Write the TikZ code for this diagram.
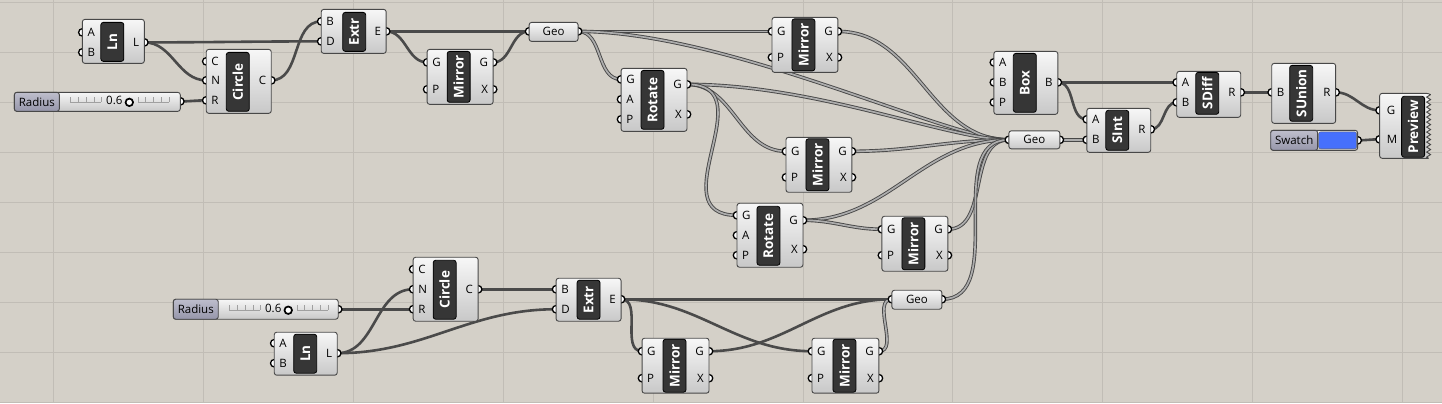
\documentclass[tikz,border=0pt]{standalone}
\usepackage{fontspec}
\setmainfont{Open Sans}
\usetikzlibrary{positioning,decorations.pathmorphing}
\pgfdeclarelayer{canvas}
\pgfdeclarelayer{wires}
\pgfsetlayers{canvas,wires,main}
\definecolor{canvasc}{RGB}{212,208,200}
\definecolor{gridc}{RGB}{193,189,182}
\definecolor{wirec}{RGB}{74,74,74}
\definecolor{bodyt}{RGB}{247,247,247}
\definecolor{bodyb}{RGB}{200,200,200}
\definecolor{edgec}{RGB}{72,72,72}
\definecolor{namec}{RGB}{54,54,54}
\definecolor{tagt}{RGB}{190,190,204}
\definecolor{tagb}{RGB}{150,150,170}
\definecolor{tickc}{RGB}{160,160,160}
\definecolor{swatchc}{RGB}{70,112,252}

\begin{document}
\begin{tikzpicture}[x=1pt,y=-1pt,
   comp/.style={draw=edgec,line width=0.9pt,rounded corners=2.5pt,top color=bodyt,bottom color=bodyb,inner sep=0},
   tag/.style={draw=edgec,line width=0.9pt,rounded corners=2.5pt,top color=tagt,bottom color=tagb,inner sep=0,font=\fontsize{11.5}{13}\selectfont},
   cname/.style={rotate=90,draw=black,line width=0.8pt,fill=namec,rounded corners=2.5pt,text=white,font=\bfseries\fontsize{13.5}{13.5}\selectfont,minimum height=23pt,inner sep=0},
   pin/.style={circle,draw=black,fill=white,line width=1.3pt,minimum size=7.5pt,inner sep=0},
   grip/.style={circle,draw=black,fill=white,line width=1.7pt,minimum size=7.5pt,inner sep=0},
   inlab/.style={anchor=west,xshift=5pt,inner sep=0,font=\fontsize{11.5}{13}\selectfont},
   outlab/.style={anchor=east,xshift=-5pt,inner sep=0,font=\fontsize{11.5}{13}\selectfont},
   ptext/.style={inner sep=0,font=\fontsize{11.5}{13}\selectfont},
   tick/.style={draw=tickc,line width=0.7pt},
   wire/.style={draw=wirec,line width=2.6pt,out=0,in=180},
   dwire/.style={draw=black!72,line width=0.9pt,double=black!32,double distance=1.7pt,out=0,in=180}]

   \begin{pgfonlayer}{canvas}
   \fill[canvasc] (0,0) rectangle (1442,403);
   \foreach \x in {53,203,...,1403} \draw[gridc,line width=0.8pt] (\x,0) -- (\x,403);
   \foreach \y in {2,52,...,402} \draw[gridc,line width=0.8pt] (0,\y) -- (1442,\y);
   \end{pgfonlayer}
   \useasboundingbox (0,0) rectangle (1442,403);

   % upper branch
   \node[pin] (ln1-A) at (82,32) {};
   \node[pin] (ln1-B) at (82,52) {};
   \node[pin] (ln1-L) at (144,42) {};
   \node[comp,minimum width=62pt,minimum height=44pt] (ln1) at (113,41) {};
   \node[cname,minimum width=39pt] (ln1-n) at (112,41.5) {Ln};
   \node[inlab] (ln1-tA) at (ln1-A) {A};
   \node[inlab] (ln1-tB) at (ln1-B) {B};
   \node[outlab] (ln1-tL) at (ln1-L) {L};

   \node[pin] (rad1-o) at (180,101) {};
   \node[comp,minimum width=166pt,minimum height=19pt] (rad1) at (97,101.5) {};
   \node[tag,minimum width=45pt,minimum height=19pt,anchor=west] (rad1-t) at (rad1.west) {Radius};
   \draw[tick] (70,102) -- (101,102) (138,102) -- (169,102);
   \foreach \t in {56,64,72,80,87,124,131,139,147,155} \draw[tick] (14+\t,97) -- (14+\t,102);
   \node[ptext] (rad1-v) at (114,100.5) {0.6};
   \node[grip] (rad1-g) at (129,102) {};

   \node[pin] (cir1-C) at (206,61) {};
   \node[pin] (cir1-N) at (206,80) {};
   \node[pin] (cir1-R) at (206,100) {};
   \node[pin] (cir1-Co) at (271,80) {};
   \node[comp,minimum width=65pt,minimum height=64pt] (cir1) at (238.5,81) {};
   \node[cname,minimum width=59pt] (cir1-n) at (237.5,81.5) {Circle};
   \node[inlab] (cir1-tC) at (cir1-C) {C};
   \node[inlab] (cir1-tN) at (cir1-N) {N};
   \node[inlab] (cir1-tR) at (cir1-R) {R};
   \node[outlab] (cir1-tCo) at (cir1-Co) {C};

   \node[pin] (ext1-B) at (321,21) {};
   \node[pin] (ext1-D) at (321,41) {};
   \node[pin] (ext1-E) at (386,31) {};
   \node[comp,minimum width=65pt,minimum height=44pt] (ext1) at (353.5,31) {};
   \node[cname,minimum width=39pt] (ext1-n) at (354,31.5) {Extr};
   \node[inlab] (ext1-tB) at (ext1-B) {B};
   \node[inlab] (ext1-tD) at (ext1-D) {D};
   \node[outlab] (ext1-tE) at (ext1-E) {E};

   \node[pin] (mir1-G) at (427,62) {};
   \node[pin] (mir1-P) at (427,89) {};
   \node[pin] (mir1-Go) at (493,62) {};
   \node[pin] (mir1-X) at (493,89) {};
   \node[comp,minimum width=66pt,minimum height=55pt] (mir1) at (460,76.5) {};
   \node[cname,minimum width=51pt] (mir1-n) at (458.5,76.5) {Mirror};
   \node[inlab] (mir1-tG) at (mir1-G) {G};
   \node[inlab] (mir1-tP) at (mir1-P) {P};
   \node[outlab] (mir1-tGo) at (mir1-Go) {G};
   \node[outlab] (mir1-tX) at (mir1-X) {X};

   \node[pin] (geo1-i) at (529,31) {};
   \node[pin] (geo1-o) at (578,31) {};
   \node[comp,minimum width=49pt,minimum height=19pt] (geo1) at (553.5,31.5) {};
   \node[ptext] (geo1-t) at (geo1) {Geo};

   \node[pin] (rot1-G) at (621,79) {};
   \node[pin] (rot1-A) at (621,99) {};
   \node[pin] (rot1-P) at (621,119) {};
   \node[pin] (rot1-Go) at (687,84) {};
   \node[pin] (rot1-X) at (687,114) {};
   \node[comp,minimum width=66pt,minimum height=63pt] (rot1) at (654,99.5) {};
   \node[cname,minimum width=59pt] (rot1-n) at (652.5,99.5) {Rotate};
   \node[inlab] (rot1-tG) at (rot1-G) {G};
   \node[inlab] (rot1-tA) at (rot1-A) {A};
   \node[inlab] (rot1-tP) at (rot1-P) {P};
   \node[outlab] (rot1-tGo) at (rot1-Go) {G};
   \node[outlab] (rot1-tX) at (rot1-X) {X};

   \node[pin] (mir2-G) at (772,31) {};
   \node[pin] (mir2-P) at (772,57) {};
   \node[pin] (mir2-Go) at (838,31) {};
   \node[pin] (mir2-X) at (838,57) {};
   \node[comp,minimum width=66pt,minimum height=55pt] (mir2) at (805,44.5) {};
   \node[cname,minimum width=52pt] (mir2-n) at (803.5,44.5) {Mirror};
   \node[inlab] (mir2-tG) at (mir2-G) {G};
   \node[inlab] (mir2-tP) at (mir2-P) {P};
   \node[outlab] (mir2-tGo) at (mir2-Go) {G};
   \node[outlab] (mir2-tX) at (mir2-X) {X};

   \node[pin] (mir3-G) at (786,151) {};
   \node[pin] (mir3-P) at (786,177) {};
   \node[pin] (mir3-Go) at (852,151) {};
   \node[pin] (mir3-X) at (852,177) {};
   \node[comp,minimum width=66pt,minimum height=55pt] (mir3) at (819,164.5) {};
   \node[cname,minimum width=52pt] (mir3-n) at (817.5,164.5) {Mirror};
   \node[inlab] (mir3-tG) at (mir3-G) {G};
   \node[inlab] (mir3-tP) at (mir3-P) {P};
   \node[outlab] (mir3-tGo) at (mir3-Go) {G};
   \node[outlab] (mir3-tX) at (mir3-X) {X};

   \node[pin] (rot2-G) at (737,215) {};
   \node[pin] (rot2-A) at (737,235) {};
   \node[pin] (rot2-P) at (737,255) {};
   \node[pin] (rot2-Go) at (803,220) {};
   \node[pin] (rot2-X) at (803,249) {};
   \node[comp,minimum width=66pt,minimum height=64pt] (rot2) at (770,235) {};
   \node[cname,minimum width=59pt] (rot2-n) at (768.5,235.5) {Rotate};
   \node[inlab] (rot2-tG) at (rot2-G) {G};
   \node[inlab] (rot2-tA) at (rot2-A) {A};
   \node[inlab] (rot2-tP) at (rot2-P) {P};
   \node[outlab] (rot2-tGo) at (rot2-Go) {G};
   \node[outlab] (rot2-tX) at (rot2-X) {X};

   \node[pin] (mir4-G) at (882,229) {};
   \node[pin] (mir4-P) at (882,255) {};
   \node[pin] (mir4-Go) at (948,229) {};
   \node[pin] (mir4-X) at (948,255) {};
   \node[comp,minimum width=66pt,minimum height=55pt] (mir4) at (915,243.5) {};
   \node[cname,minimum width=52pt] (mir4-n) at (913.5,243.5) {Mirror};
   \node[inlab] (mir4-tG) at (mir4-G) {G};
   \node[inlab] (mir4-tP) at (mir4-P) {P};
   \node[outlab] (mir4-tGo) at (mir4-Go) {G};
   \node[outlab] (mir4-tX) at (mir4-X) {X};

   % boolean part
   \node[pin] (geo2-i) at (1009,139.5) {};
   \node[pin] (geo2-o) at (1060,139.5) {};
   \node[comp,minimum width=51pt,minimum height=18pt] (geo2) at (1034.5,139.5) {};
   \node[ptext] (geo2-t) at (geo2) {Geo};

   \node[pin] (box-A) at (994,62) {};
   \node[pin] (box-B) at (994,82) {};
   \node[pin] (box-P) at (994,102) {};
   \node[pin] (box-Bo) at (1058,82) {};
   \node[comp,minimum width=64pt,minimum height=63pt] (box) at (1026,82.5) {};
   \node[cname,minimum width=59pt] (box-n) at (1025,82.5) {Box};
   \node[inlab] (box-tA) at (box-A) {A};
   \node[inlab] (box-tB) at (box-B) {B};
   \node[inlab] (box-tP) at (box-P) {P};
   \node[outlab] (box-tBo) at (box-Bo) {B};

   \node[pin] (sint-A) at (1087,119) {};
   \node[pin] (sint-B) at (1087,139.5) {};
   \node[pin] (sint-R) at (1151,129) {};
   \node[comp,minimum width=64pt,minimum height=44pt] (sint) at (1119,130) {};
   \node[cname,minimum width=40pt] (sint-n) at (1117.5,130) {SInt};
   \node[inlab] (sint-tA) at (sint-A) {A};
   \node[inlab] (sint-tB) at (sint-B) {B};
   \node[outlab] (sint-tR) at (sint-R) {R};

   \node[pin] (sdif-A) at (1177,82) {};
   \node[pin] (sdif-B) at (1177,102) {};
   \node[pin] (sdif-R) at (1241,92) {};
   \node[comp,minimum width=64pt,minimum height=46pt] (sdif) at (1209,94) {};
   \node[cname,minimum width=42pt] (sdif-n) at (1207.5,93) {SDiff};
   \node[inlab] (sdif-tA) at (sdif-A) {A};
   \node[inlab] (sdif-tB) at (sdif-B) {B};
   \node[outlab] (sdif-tR) at (sdif-R) {R};

   \node[pin] (suni-B) at (1272,92) {};
   \node[pin] (suni-R) at (1336,92) {};
   \node[comp,minimum width=64pt,minimum height=60pt] (suni) at (1304,93) {};
   \node[cname,minimum width=56pt] (suni-n) at (1301.5,93) {SUnion};
   \node[inlab] (suni-tB) at (suni-B) {B};
   \node[outlab] (suni-tR) at (suni-R) {R};

   \node[pin] (swat-o) at (1358,140) {};
   \node[comp,minimum width=87pt,minimum height=20pt] (swat) at (1314.5,140) {};
   \node[tag,minimum width=47pt,minimum height=20pt,anchor=west] (swat-t) at (swat.west) {Swatch};
   \node[draw=black!60,fill=swatchc,rounded corners=2pt,minimum width=38pt,minimum height=17pt,inner sep=0] (swat-c) at (1338,140) {};

   \node[pin] (prev-G) at (1380,110) {};
   \node[pin] (prev-M) at (1380,139) {};
   \path[comp] (1429,158) -- (1380,158) -- (1380,93) -- (1429,93) [sharp corners]
      decorate[decoration={zigzag,segment length=5pt,amplitude=2pt}] {-- (1429,158)};
   \node[cname,minimum width=61pt] (prev-n) at (1413.5,126.5) {Preview};
   \node[inlab,xshift=2pt] (prev-tG) at (prev-G) {G};
   \node[inlab,xshift=2pt] (prev-tM) at (prev-M) {M};

   % lower branch
   \node[pin] (rad2-o) at (338,309) {};
   \node[comp,minimum width=165pt,minimum height=20pt] (rad2) at (255.5,309) {};
   \node[tag,minimum width=45pt,minimum height=20pt,anchor=west] (rad2-t) at (rad2.west) {Radius};
   \draw[tick] (229,310) -- (260,310) (297,310) -- (328,310);
   \foreach \t in {56,64,72,80,87,124,131,139,147,155} \draw[tick] (173+\t,305) -- (173+\t,310);
   \node[ptext] (rad2-v) at (273,308.5) {0.6};
   \node[grip] (rad2-g) at (288,310) {};

   \node[pin] (cir2-C) at (413,269) {};
   \node[pin] (cir2-N) at (413,289) {};
   \node[pin] (cir2-R) at (413,309) {};
   \node[pin] (cir2-Co) at (478,289) {};
   \node[comp,minimum width=65pt,minimum height=64pt] (cir2) at (445.5,289) {};
   \node[cname,minimum width=59pt] (cir2-n) at (444.5,289.5) {Circle};
   \node[inlab] (cir2-tC) at (cir2-C) {C};
   \node[inlab] (cir2-tN) at (cir2-N) {N};
   \node[inlab] (cir2-tR) at (cir2-R) {R};
   \node[outlab] (cir2-tCo) at (cir2-Co) {C};

   \node[pin] (ln2-A) at (274,343) {};
   \node[pin] (ln2-B) at (274,363) {};
   \node[pin] (ln2-L) at (337,353) {};
   \node[comp,minimum width=63pt,minimum height=43pt] (ln2) at (305.5,353.5) {};
   \node[cname,minimum width=39pt] (ln2-n) at (305,353.5) {Ln};
   \node[inlab] (ln2-tA) at (ln2-A) {A};
   \node[inlab] (ln2-tB) at (ln2-B) {B};
   \node[outlab] (ln2-tL) at (ln2-L) {L};

   \node[pin] (ext2-B) at (556,289) {};
   \node[pin] (ext2-D) at (556,309) {};
   \node[pin] (ext2-E) at (621,299) {};
   \node[comp,minimum width=65pt,minimum height=43pt] (ext2) at (588.5,299.5) {};
   \node[cname,minimum width=39pt] (ext2-n) at (588.5,299.5) {Extr};
   \node[inlab] (ext2-tB) at (ext2-B) {B};
   \node[inlab] (ext2-tD) at (ext2-D) {D};
   \node[outlab] (ext2-tE) at (ext2-E) {E};

   \node[pin] (mir5-G) at (642,351) {};
   \node[pin] (mir5-P) at (642,378) {};
   \node[pin] (mir5-Go) at (709,351) {};
   \node[pin] (mir5-X) at (709,378) {};
   \node[comp,minimum width=67pt,minimum height=55pt] (mir5) at (675.5,365.5) {};
   \node[cname,minimum width=53pt] (mir5-n) at (674.5,365.5) {Mirror};
   \node[inlab] (mir5-tG) at (mir5-G) {G};
   \node[inlab] (mir5-tP) at (mir5-P) {P};
   \node[outlab] (mir5-tGo) at (mir5-Go) {G};
   \node[outlab] (mir5-tX) at (mir5-X) {X};

   \node[pin] (mir6-G) at (812,351) {};
   \node[pin] (mir6-P) at (812,378) {};
   \node[pin] (mir6-Go) at (879,351) {};
   \node[pin] (mir6-X) at (879,378) {};
   \node[comp,minimum width=67pt,minimum height=55pt] (mir6) at (845.5,365.5) {};
   \node[cname,minimum width=53pt] (mir6-n) at (844.5,365.5) {Mirror};
   \node[inlab] (mir6-tG) at (mir6-G) {G};
   \node[inlab] (mir6-tP) at (mir6-P) {P};
   \node[outlab] (mir6-tGo) at (mir6-Go) {G};
   \node[outlab] (mir6-tX) at (mir6-X) {X};

   \node[pin] (geo3-i) at (892,299) {};
   \node[pin] (geo3-o) at (942,299) {};
   \node[comp,minimum width=50pt,minimum height=19pt] (geo3) at (917,299.5) {};
   \node[ptext] (geo3-t) at (geo3) {Geo};

   % wires
   \begin{pgfonlayer}{wires}
   \draw[wire] (ln1-L.center) to (ext1-D.center);
   \draw[wire] (ln1-L.center) to (cir1-N.center);
   \draw[wire] (rad1-o.center) to (cir1-R.center);
   \draw[wire] (cir1-Co.center) to (ext1-B.center);
   \draw[wire] (ext1-E.center) to (geo1-i.center);
   \draw[wire] (ext1-E.center) to (mir1-G.center);
   \draw[wire] (mir1-Go.center) to (geo1-i.center);
   \draw[dwire] (geo1-o.center) to (mir2-G.center);
   \draw[dwire] (geo1-o.center) to (rot1-G.center);
   \draw[dwire,out distance=150pt,in distance=60pt] (geo1-o.center) to (geo2-i.center);
   \draw[dwire] (mir2-Go.center) to (geo2-i.center);
   \draw[dwire,out distance=130pt,in distance=60pt] (rot1-Go.center) to (geo2-i.center);
   \draw[dwire] (rot1-Go.center) to (mir3-G.center);
   \draw[dwire,distance=80pt] (rot1-Go.center) to (rot2-G.center);
   \draw[dwire] (mir3-Go.center) to (geo2-i.center);
   \draw[dwire] (rot2-Go.center) to (geo2-i.center);
   \draw[dwire] (rot2-Go.center) to (mir4-G.center);
   \draw[dwire] (mir4-Go.center) to (geo2-i.center);
   \draw[dwire] (geo3-o.center) to (geo2-i.center);
   \draw[dwire] (geo2-o.center) to (sint-B.center);
   \draw[wire] (box-Bo.center) to (sdif-A.center);
   \draw[wire] (box-Bo.center) to (sint-A.center);
   \draw[wire] (sint-R.center) to (sdif-B.center);
   \draw[wire] (sdif-R.center) to (suni-B.center);
   \draw[wire] (suni-R.center) to (prev-G.center);
   \draw[wire] (swat-o.center) to (prev-M.center);
   \draw[wire] (rad2-o.center) to (cir2-R.center);
   \draw[wire] (ln2-L.center) to (cir2-N.center);
   \draw[wire] (ln2-L.center) to (ext2-D.center);
   \draw[wire] (cir2-Co.center) to (ext2-B.center);
   \draw[wire] (ext2-E.center) to (geo3-i.center);
   \draw[wire] (ext2-E.center) to (mir5-G.center);
   \draw[wire] (ext2-E.center) to (mir6-G.center);
   \draw[wire] (mir5-Go.center) to (geo3-i.center);
   \draw[dwire] (mir6-Go.center) to (geo3-i.center);
   \end{pgfonlayer}
\end{tikzpicture}
\end{document}
